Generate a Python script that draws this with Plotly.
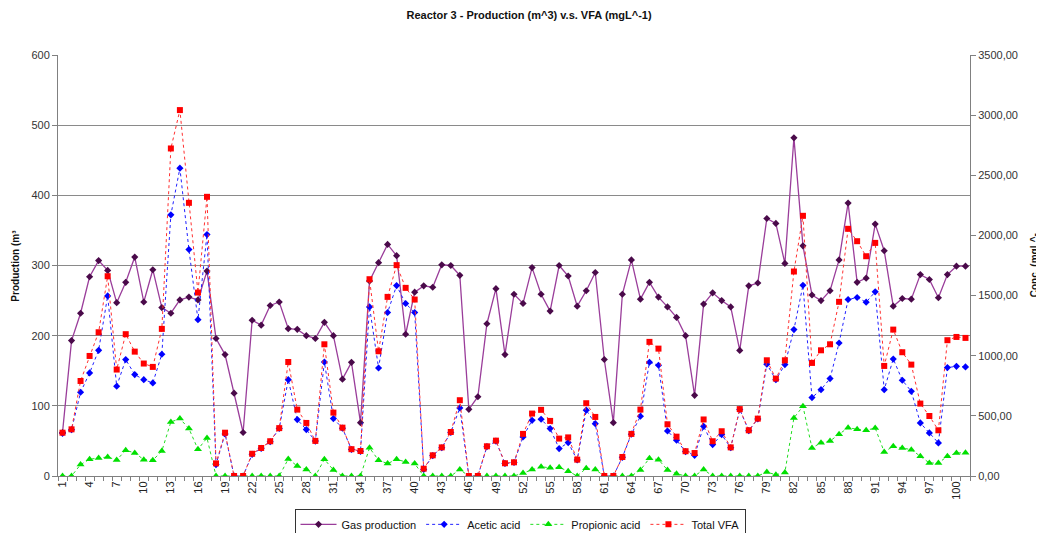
import plotly.graph_objects as go

days = list(range(1, 102))

gas_production = [62, 193, 232, 284, 307, 293, 247, 276, 312, 248,
                  294, 240, 232, 251, 255, 251, 292, 196, 173, 118,
                  62, 222, 215, 243, 248, 210, 209, 200, 196, 219,
                  200, 138, 162, 76, 278, 304, 330, 314, 202, 262,
                  271, 269, 301, 300, 286, 95, 113, 217, 267, 173,
                  259, 246, 297, 259, 235, 300, 285, 242, 264, 290,
                  166, 76, 259, 308, 252, 276, 255, 241, 226, 200,
                  115, 245, 261, 250, 241, 179, 271, 275, 367, 360,
                  303, 482, 328, 258, 250, 264, 308, 389, 276, 282,
                  359, 321, 242, 253, 252, 287, 280, 254, 287, 299, 299]

acetic_acid = [355, 385, 696, 857, 1045, 1497, 746, 968, 843, 801,
               774, 1012, 2171, 2559, 1883, 1300, 2008, 95, 350, 0,
               0, 180, 230, 285, 395, 801, 469, 386, 290, 948,
               477, 398, 220, 205, 1406, 898, 1359, 1583, 1434, 1359,
               55, 170, 235, 362, 566, 0, 0, 244, 290, 104,
               112, 325, 463, 472, 394, 228, 278, 133, 547, 435,
               0, 0, 155, 348, 497, 946, 921, 374, 297, 203,
               172, 413, 261, 344, 235, 553, 377, 474, 930, 800,
               926, 1217, 1586, 652, 718, 810, 1106, 1467, 1484, 1445,
               1531, 718, 973, 796, 704, 441, 358, 275, 901, 912, 907]

propionic_acid = [0, 0, 95, 139, 150, 158, 133, 214, 192, 136,
                  131, 208, 449, 477, 394, 222, 316, 0, 0, 0,
                  0, 0, 0, 0, 0, 141, 83, 53, 0, 139,
                  50, 0, 0, 0, 234, 131, 103, 139, 117, 103,
                  0, 0, 0, 0, 53, 0, 0, 0, 0, 0,
                  0, 25, 53, 77, 68, 72, 40, 0, 64, 53,
                  0, 0, 0, 0, 50, 147, 136, 50, 19, 0,
                  0, 53, 0, 0, 0, 0, 0, 0, 33, 10,
                  30, 483, 580, 233, 277, 291, 347, 402, 388, 380,
                  399, 200, 247, 233, 219, 164, 108, 108, 164, 191, 194]

total_vfa = [360, 388, 790, 998, 1195, 1661, 885, 1179, 1034, 935,
             907, 1223, 2723, 3042, 2271, 1525, 2321, 105, 360, 0,
             0, 185, 233, 289, 398, 948, 552, 441, 292, 1095,
             527, 402, 223, 208, 1636, 1037, 1489, 1753, 1564, 1467,
             61, 172, 238, 366, 630, 0, 0, 247, 294, 106,
             114, 350, 519, 550, 458, 311, 321, 136, 605, 491,
             0, 0, 158, 350, 552, 1115, 1059, 430, 327, 206,
             191, 470, 289, 372, 238, 556, 380, 477, 962, 810,
             962, 1700, 2163, 940, 1045, 1095, 1448, 2055, 1952, 1827,
             1938, 915, 1217, 1029, 926, 602, 499, 380, 1129, 1156, 1148]

x_tick_vals = list(range(1, 101, 3))
x_tick_text = [str(v) for v in x_tick_vals]
left_ticks = [0, 100, 200, 300, 400, 500, 600]
right_ticks = [0, 500, 1000, 1500, 2000, 2500, 3000, 3500]
right_tick_text = ["0,00", "500,00", "1000,00", "1500,00", "2000,00", "2500,00", "3000,00", "3500,00"]

FONT = "Arial, Liberation Sans, sans-serif"

fig = go.Figure()
fig.add_trace(go.Scatter(
    x=days, y=gas_production, name="Gas production", mode="lines+markers",
    line=dict(color="#9a3d9a", width=1.3),
    marker=dict(symbol="diamond", size=5.5, color="#4a0a4a"),
))
fig.add_trace(go.Scatter(
    x=days, y=acetic_acid, name="Acetic acid", mode="lines+markers", yaxis="y2",
    line=dict(color="#2020ff", width=1, dash="dot"),
    marker=dict(symbol="diamond", size=5.5, color="#0000ff"),
))
fig.add_trace(go.Scatter(
    x=days, y=propionic_acid, name="Propionic acid", mode="lines+markers", yaxis="y2",
    line=dict(color="#22dd22", width=1, dash="dot"),
    marker=dict(symbol="triangle-up", size=7, color="#00e000"),
))
fig.add_trace(go.Scatter(
    x=days, y=total_vfa, name="Total VFA", mode="lines+markers", yaxis="y2",
    line=dict(color="#ff3030", width=1, dash="dot"),
    marker=dict(symbol="square", size=6, color="#ff0000"),
))

# The page body adds an 8px margin, so the figure is sized 1036x525.
fig.update_layout(
    width=1036, height=525,
    margin=dict(l=50, r=74, t=47, b=57, autoexpand=False),
    paper_bgcolor="white", plot_bgcolor="white",
    font=dict(family=FONT, size=11, color="#222222"),
    title=dict(text="<b>Reactor 3 - Production (m^3) v.s. VFA (mgL^-1)</b>",
               x=0.503, xanchor="center", y=0.987, yanchor="middle",
               font=dict(size=11, color="#111111")),
    xaxis=dict(range=[0.5, 101.5], tickmode="array", tickvals=x_tick_vals, ticktext=x_tick_text,
               tickangle=-90, ticks="", showgrid=False, zeroline=False,
               showline=True, linecolor="#808080", linewidth=1,
               minor=dict(tickmode="array", tickvals=[v + 0.5 for v in range(0, 102)],
                          ticks="outside", ticklen=4, tickcolor="#808080", showgrid=False),
               tickfont=dict(size=11, color="#222222")),
    yaxis=dict(range=[0, 600], tickmode="array", tickvals=left_ticks,
               showgrid=True, gridcolor="#8a8a8a", gridwidth=1,
               zeroline=False, showline=True, linecolor="#808080", linewidth=1,
               ticks="outside", ticklen=5, tickcolor="#808080",
               tickfont=dict(size=11, color="#333333")),
    yaxis2=dict(range=[0, 3500], overlaying="y", side="right", tickmode="array",
                tickvals=right_ticks, ticktext=right_tick_text,
                showgrid=False, zeroline=False, showline=True, linecolor="#808080", linewidth=1,
                ticks="outside", ticklen=5, tickcolor="#808080",
                tickfont=dict(size=11, color="#333333")),
    legend=dict(orientation="h", x=0.5066, xanchor="center",
                yref="container", y=0.046, yanchor="top",
                bordercolor="#333333", borderwidth=1, bgcolor="white",
                font=dict(size=11, color="#111111"), itemwidth=36,
                tracegroupgap=0),
    showlegend=True,
    annotations=[
        dict(text="<b>Production (m³</b>", xref="paper", yref="paper", x=-0.047, y=0.5,
             xanchor="center", yanchor="middle", textangle=-90, showarrow=False,
             font=dict(size=10, color="#111111")),
        dict(text="<b>Conc. (mgL^-</b>", xref="paper", yref="paper", x=1.071, y=0.5,
             xanchor="center", yanchor="middle", textangle=-90, showarrow=False,
             font=dict(size=10, color="#111111")),
    ],
)

fig.write_html("out.html")
